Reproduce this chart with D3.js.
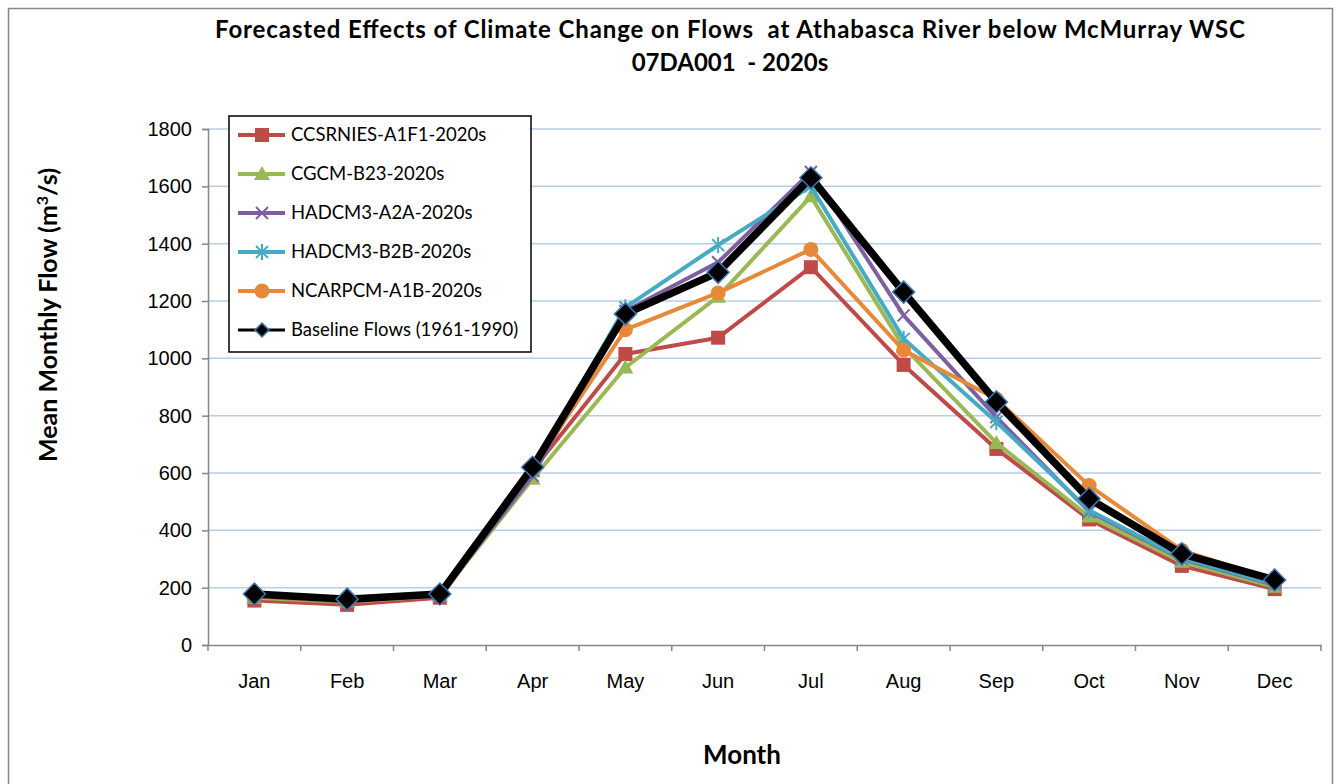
<!DOCTYPE html>
<html>
<head>
<meta charset="utf-8">
<script src="https://cdn.jsdelivr.net/npm/d3@7"></script>
<style>
  body { margin: 0; background: #fff; }
  svg { display: block; font-family: Lato, "Open Sans", sans-serif; }
</style>
</head>
<body>
<svg id="chart" width="1340" height="784"></svg>
<script>
// data
var months = ["Jan", "Feb", "Mar", "Apr", "May", "Jun", "Jul", "Aug", "Sep", "Oct", "Nov", "Dec"];
var yTicks = [0, 200, 400, 600, 800, 1000, 1200, 1400, 1600, 1800];

var ccsrnies = [155, 140, 165, 610, 1015, 1072, 1318, 977, 684, 438, 276, 195];
var cgcm     = [165, 150, 172, 580, 968, 1215, 1565, 1040, 705, 448, 290, 203];
var hadA2A   = [170, 152, 175, 590, 1165, 1335, 1650, 1150, 795, 465, 300, 210];
var hadB2B   = [172, 155, 176, 612, 1178, 1395, 1600, 1068, 778, 470, 303, 212];
var ncarpcm  = [170, 153, 175, 615, 1100, 1228, 1380, 1028, 858, 556, 330, 226];
var baseline = [178, 160, 178, 620, 1155, 1300, 1630, 1231, 848, 510, 318, 227];

var seriesNames = ["CCSRNIES-A1F1-2020s", "CGCM-B23-2020s", "HADCM3-A2A-2020s",
                   "HADCM3-B2B-2020s", "NCARPCM-A1B-2020s", "Baseline Flows (1961-1990)"];

var series = [
    {name: seriesNames[0], values: ccsrnies, color: "#BE4B48", width: 4, marker: "square"},
    {name: seriesNames[1], values: cgcm,     color: "#98B954", width: 4, marker: "triangle"},
    {name: seriesNames[2], values: hadA2A,   color: "#7D60A0", width: 4, marker: "x"},
    {name: seriesNames[3], values: hadB2B,   color: "#46AAC5", width: 4, marker: "asterisk"},
    {name: seriesNames[4], values: ncarpcm,  color: "#E8893A", width: 4, marker: "circle"},
    {name: seriesNames[5], values: baseline, color: "#000000", width: 7.5, marker: "diamond"}
];

var svg = d3.select("#chart");

// outer chart border
svg.append("rect")
    .attr("x", 8.5).attr("y", 8.5)
    .attr("width", 1324).attr("height", 790)
    .attr("fill", "none")
    .attr("stroke", "#868686")
    .attr("stroke-width", 1.5);

var margin = {left: 208, right: 1321, top: 129, bottom: 645};

var x = d3.scaleBand()
    .domain(months)
    .range([margin.left, margin.right]);

var y = d3.scaleLinear()
    .domain([0, 1800])
    .range([margin.bottom, margin.top]);

// gridlines
svg.append("g")
    .selectAll("line")
    .data(yTicks.filter(function(d) { return d > 0; }))
    .enter().append("line")
    .attr("x1", margin.left).attr("x2", margin.right)
    .attr("y1", function(d) { return y(d); })
    .attr("y2", function(d) { return y(d); })
    .attr("stroke", "#B9CDE5")
    .attr("stroke-width", 1.5);

// y axis
var yAxis = svg.append("g")
    .attr("transform", "translate(" + margin.left + ",0)")
    .call(d3.axisLeft(y).tickValues(yTicks).tickFormat(d3.format("d")).tickSize(6).tickPadding(10));
yAxis.selectAll("text").style("font-size", "20px").attr("fill", "#000");

// x axis, ticks between categories
var xAxis = svg.append("g")
    .attr("transform", "translate(0," + margin.bottom + ")")
    .call(d3.axisBottom(x).tickSize(0).tickPadding(29));
xAxis.selectAll("text").style("font-size", "20px").attr("fill", "#000");

var boundaries = months.map(function(m) { return x(m); }).concat([x(months[11]) + x.bandwidth()]);
xAxis.selectAll(".sep")
    .data(boundaries)
    .enter().append("line")
    .attr("class", "sep")
    .attr("x1", function(d) { return d; }).attr("x2", function(d) { return d; })
    .attr("y1", 0).attr("y2", 6)
    .attr("stroke", "#868686")
    .attr("stroke-width", 1.5);

svg.selectAll(".domain").attr("stroke", "#868686").attr("stroke-width", 1.5);
yAxis.selectAll(".tick line").attr("stroke", "#868686").attr("stroke-width", 1.5);

// axis titles
svg.append("text")
    .attr("x", 742).attr("y", 764)
    .attr("text-anchor", "middle")
    .style("font-size", "26px").style("font-weight", "bold")
    .text("Month");

var yTitle = svg.append("text")
    .attr("transform", "translate(57,315) rotate(-90)")
    .attr("text-anchor", "middle")
    .style("font-size", "25px").style("font-weight", "bold");
yTitle.append("tspan").text("Mean Monthly Flow (m");
yTitle.append("tspan").attr("dy", -9).style("font-size", "16px").text("3");
yTitle.append("tspan").attr("dy", 9).text("/s)");

// chart title
svg.append("text")
    .attr("x", 730).attr("y", 38)
    .attr("text-anchor", "middle")
    .style("font-size", "24px").style("font-weight", "bold")
    .attr("xml:space", "preserve")
    .attr("textLength", 1030).attr("lengthAdjust", "spacing")
    .text("Forecasted Effects of Climate Change on Flows  at Athabasca River below McMurray WSC");
svg.append("text")
    .attr("x", 730).attr("y", 71)
    .attr("text-anchor", "middle")
    .attr("xml:space", "preserve")
    .style("font-size", "24px").style("font-weight", "bold")
    .text("07DA001  - 2020s");

// marker drawing
function drawMarker(g, type, color) {
    if (type == "square") {
        g.append("rect").attr("x", -7).attr("y", -7).attr("width", 14).attr("height", 14)
            .attr("fill", color);
    } else if (type == "triangle") {
        g.append("path").attr("d", "M0,-8L8,6L-8,6Z").attr("fill", color);
    } else if (type == "x") {
        g.append("path").attr("d", "M-6,-6L6,6M-6,6L6,-6")
            .attr("stroke", color).attr("stroke-width", 2);
    } else if (type == "asterisk") {
        g.append("path").attr("d", "M-6,-6L6,6M-6,6L6,-6M0,-8L0,8")
            .attr("stroke", color).attr("stroke-width", 2);
    } else if (type == "circle") {
        g.append("circle").attr("r", 7.5).attr("fill", color);
    } else if (type == "diamond") {
        g.append("path").attr("d", "M0,-11L11,0L0,11L-11,0Z")
            .attr("fill", "#000").attr("stroke", "#3F76B0").attr("stroke-width", 1.5);
    }
}

var line = d3.line()
    .x(function(d, i) { return x(months[i]) + x.bandwidth() / 2; })
    .y(function(d) { return y(d); });

series.forEach(function(s) {
    var g = svg.append("g");
    g.append("path")
        .attr("d", line(s.values))
        .attr("fill", "none")
        .attr("stroke", s.color)
        .attr("stroke-width", s.width)
        .attr("stroke-linejoin", "round");
    s.values.forEach(function(v, i) {
        var m = g.append("g")
            .attr("transform", "translate(" + (x(months[i]) + x.bandwidth() / 2) + "," + y(v) + ")");
        drawMarker(m, s.marker, s.color);
    });
});

// legend
var legend = svg.append("g").attr("transform", "translate(229,116)");
legend.append("rect")
    .attr("width", 302).attr("height", 236)
    .attr("fill", "#fff")
    .attr("stroke", "#000").attr("stroke-width", 1.5);

var item = legend.selectAll(".item")
    .data(series)
    .enter().append("g")
    .attr("class", "item")
    .attr("transform", function(d, i) { return "translate(0," + (19 + i * 39) + ")"; });

item.append("line")
    .attr("x1", 9).attr("x2", 56)
    .attr("stroke", function(d) { return d.color; })
    .attr("stroke-width", function(d) { return d.marker == "diamond" ? 3 : 4; });

item.each(function(d) {
    var m = d3.select(this).append("g").attr("transform", "translate(33,0)");
    if (d.marker == "diamond") {
        m.append("path").attr("d", "M0,-7L7,0L0,7L-7,0Z")
            .attr("fill", "#000").attr("stroke", "#3F76B0").attr("stroke-width", 1.5);
    } else {
        drawMarker(m, d.marker, d.color);
    }
});

item.append("text")
    .attr("x", 62).attr("y", 6)
    .style("font-size", "18.5px")
    .text(function(d) { return d.name; });
</script>
</body>
</html>
